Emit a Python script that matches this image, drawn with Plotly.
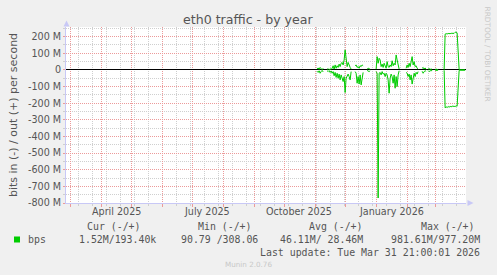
import plotly.graph_objects as go
import pandas as pd

# ---------------- data ----------------
start_date = "2025-11-03"          # first daily sample
N = None
# outgoing traffic (Mbit/s), plotted positive
out_mbps = [
    5, 12, 3, 15, 8, 2, 10, N, N, N,
    3, 8, 2, 6, 4, 10, 25, 5, 30, 10,
    25, 15, 35, 20, 40, 45, 30, 60, 120, 40,
    20, 45, 25, 15, 5, N, N, N, 25, 30,
    15, 20, 10, 25, 20, 30, 25, N, N, N,
    5, 10, 8, 3, N, N, N, N, N, 5,
    80, 40, 70, 60, 20, 35, 15, 40, 25, 10,
    50, 20, 15, 30, 20, 55, 25, 40, 30, 90,
    60, 20, 5, N, N, N, N, N, N, 10,
    30, 15, 40, 20, 45, 80, 30, 50, 20, 25,
    10, 5, N, N, N, 10, 15, 5, 12, 3,
    N, 5, 8, 3, 6, 2, N, N, 3, 5,
    2, 4, N, N, N, N, N, 2, 215, 218,
    216, 219, 217, 218, 220, 219, 221, 220, 226, 228,
    222, 110, 3, 0.3, 0.2, 0.25, 0.2, 0.18, 0.19,
]
# incoming traffic (Mbit/s), plotted negative
in_mbps = [
    8, 15, 5, 20, 10, 3, 12, N, N, N,
    5, 10, 4, 15, 6, 20, 10, 35, 15, 45,
    20, 50, 25, 60, 30, 55, 70, 40, 136, 50,
    30, 25, 40, 60, 10, N, N, N, 10, 20,
    80, 40, 85, 30, 90, 40, 15, N, N, N,
    3, 8, 10, 5, N, N, N, N, N, 10,
    20, 770, 20, 15, 30, 10, 25, 20, 40, 20,
    30, 60, 140, 50, 25, 40, 80, 30, 110, 40,
    100, 30, 5, N, N, N, N, N, N, 15,
    20, 40, 25, 60, 30, 85, 50, 20, 40, 15,
    25, 10, N, N, N, 8, 20, 10, 5, 8,
    N, 4, 10, 5, 3, 4, N, N, 2, 4,
    3, 2, N, N, N, N, N, 2, 228, 222,
    226, 220, 224, 219, 222, 218, 221, 219, 220, 216,
    218, 110, 3, 1.4, 1.6, 1.5, 1.5, 1.55, 1.52,
]
assert len(out_mbps) == len(in_mbps)
dates = pd.date_range(start_date, periods=len(out_mbps), freq="D")

x_range = ["2025-02-24 21:00", "2026-03-31 21:00"]
y_range = [-800e6, 258e6]
y_tick_vals = [200e6, 100e6, 0, -100e6, -200e6, -300e6, -400e6, -500e6,
               -600e6, -700e6, -800e6]
y_tick_text = ["200 M", "100 M", "0", "-100 M", "-200 M", "-300 M", "-400 M",
               "-500 M", "-600 M", "-700 M", "-800 M"]
month_labels = ["April 2025", "July 2025", "October 2025", "January 2026"]
month_label_dates = ["2025-04-16", "2025-07-16", "2025-10-16", "2026-01-16"]

legend_headers = ["Cur (-/+)", "Min (-/+)", "Avg (-/+)", "Max (-/+)"]
legend_values = ["1.52M/193.40k", "90.79 /308.06", "46.11M/ 28.46M", "981.61M/977.20M"]
series_name = "bps"
last_update = "Last update: Tue Mar 31 21:00:01 2026"

# ---------------- layout geometry ----------------
W, H = 497, 275
L, R, T, B = 66, 31, 27, 72
PW, PH = W - L - R, H - T - B


def px(x):
    return (x - L) / PW


def py(y):
    return (H - B - y) / PH


GREEN = "#00CC00"
TXT = "#555555"
MAJ = "#EC9A9A"
MIN = "#CFCFCF"
AXC = "#C8C8F6"
MONO = "DejaVu Sans Mono"
SANS = "DejaVu Sans"

fig = go.Figure()
fig.add_trace(go.Scatter(x=dates, y=[v * 1e6 if v is not None else None for v in out_mbps],
                         mode="lines", line=dict(color=GREEN, width=1),
                         connectgaps=False, hoverinfo="skip", showlegend=False))
fig.add_trace(go.Scatter(x=dates, y=[-v * 1e6 if v is not None else None for v in in_mbps],
                         mode="lines", line=dict(color=GREEN, width=1),
                         connectgaps=False, hoverinfo="skip", showlegend=False))

fig.update_layout(
    width=W, height=H,
    margin=dict(l=L, r=R, t=T, b=B, pad=0),
    paper_bgcolor="#F0F0F0", plot_bgcolor="#FFFFFF",
    showlegend=False,
    font=dict(family=SANS, size=9.6, color=TXT),
)
fig.update_xaxes(
    type="date", range=x_range, fixedrange=True,
    showline=True, linecolor=AXC, linewidth=1,
    tickmode="linear", tick0="2025-03-01", dtick="M1",
    showticklabels=False,
    ticks="outside", ticklen=3, tickcolor=MAJ, tickwidth=1,
    showgrid=True, gridcolor=MAJ, griddash="1px,1px", gridwidth=1,
    minor=dict(tick0="2025-03-09", dtick=14 * 86400000, showgrid=True,
               gridcolor=MIN, griddash="1px,1px", ticks="outside", ticklen=2,
               tickcolor=MIN),
    zeroline=False,
)
fig.update_yaxes(
    range=y_range, fixedrange=True,
    showline=True, linecolor=AXC, linewidth=1,
    tickmode="array", tickvals=y_tick_vals, ticktext=y_tick_text,
    ticks="outside", ticklen=2, tickcolor=MAJ,
    tickfont=dict(family=SANS, size=9.6, color=TXT),
    showgrid=True, gridcolor=MAJ, griddash="1px,1px", gridwidth=1,
    minor=dict(tick0=0, dtick=50e6, showgrid=True, gridcolor=MIN,
               griddash="1px,1px", ticks="outside", ticklen=2, tickcolor=MIN),
    zeroline=True, zerolinecolor="#000000", zerolinewidth=1.3,
    title=dict(text="bits in (-) / out (+) per second",
               font=dict(family=SANS, size=11, color=TXT), standoff=8),
)

ann = []
# title
ann.append(dict(text="eth0 traffic - by year", x=px(248), y=py(19.5), xref="paper", yref="paper",
                xanchor="center", yanchor="middle", showarrow=False,
                font=dict(family=SANS, size=12.6, color=TXT)))
# rrdtool credit
ann.append(dict(text="RRDTOOL / TOBI OETIKER", x=px(487), y=py(53.5), xref="paper", yref="paper",
                xanchor="center", yanchor="middle", textangle=90, showarrow=False,
                font=dict(family=SANS, size=7.4, color="#C8C8C8")))
# month labels
for lab, d in zip(month_labels, month_label_dates):
    ann.append(dict(text=lab, x=d, y=py(212), xref="x", yref="paper",
                    xanchor="center", yanchor="middle", showarrow=False,
                    font=dict(family=SANS, size=9.6, color=TXT)))
# legend block
head_right = [143, 254, 365, 477]
val_right = [158, 260, 365, 482]
for h, xr in zip(legend_headers, head_right):
    ann.append(dict(text=h, x=px(xr), y=py(227), xref="paper", yref="paper",
                    xanchor="right", yanchor="middle", showarrow=False,
                    font=dict(family=MONO, size=9.9, color=TXT)))
for v, xr in zip(legend_values, val_right):
    ann.append(dict(text=v, x=px(xr), y=py(239.5), xref="paper", yref="paper",
                    xanchor="right", yanchor="middle", showarrow=False,
                    font=dict(family=MONO, size=9.9, color=TXT)))
ann.append(dict(text=series_name, x=px(26), y=py(239.5), xref="paper", yref="paper",
                xanchor="left", yanchor="middle", showarrow=False,
                font=dict(family=MONO, size=9.9, color=TXT)))
ann.append(dict(text=last_update, x=px(482), y=py(252), xref="paper", yref="paper",
                xanchor="right", yanchor="middle", showarrow=False,
                font=dict(family=MONO, size=9.9, color=TXT)))
ann.append(dict(text="Munin 2.0.76", x=px(223), y=py(264), xref="paper", yref="paper",
                xanchor="left", yanchor="middle", showarrow=False,
                font=dict(family=SANS, size=7.2, color="#C8C8C8")))
fig.update_layout(annotations=ann)

shapes = []
# legend colour box
shapes.append(dict(type="rect", xref="paper", yref="paper",
                   x0=px(14), x1=px(20), y0=py(242.5), y1=py(236.5),
                   fillcolor=GREEN, line=dict(width=0)))
# axis arrows
shapes.append(dict(type="path", xref="paper", yref="paper",
                   path=f"M {px(63.5)} {py(26.5)} L {px(69.5)} {py(26.5)} L {px(66.5)} {py(20.5)} Z",
                   fillcolor=AXC, line=dict(width=0), layer="above"))
shapes.append(dict(type="path", xref="paper", yref="paper",
                   path=f"M {px(467.5)} {py(200)} L {px(467.5)} {py(206)} L {px(473.5)} {py(203)} Z",
                   fillcolor=AXC, line=dict(width=0), layer="above"))
fig.update_layout(shapes=shapes)

fig.write_html("out.html")
